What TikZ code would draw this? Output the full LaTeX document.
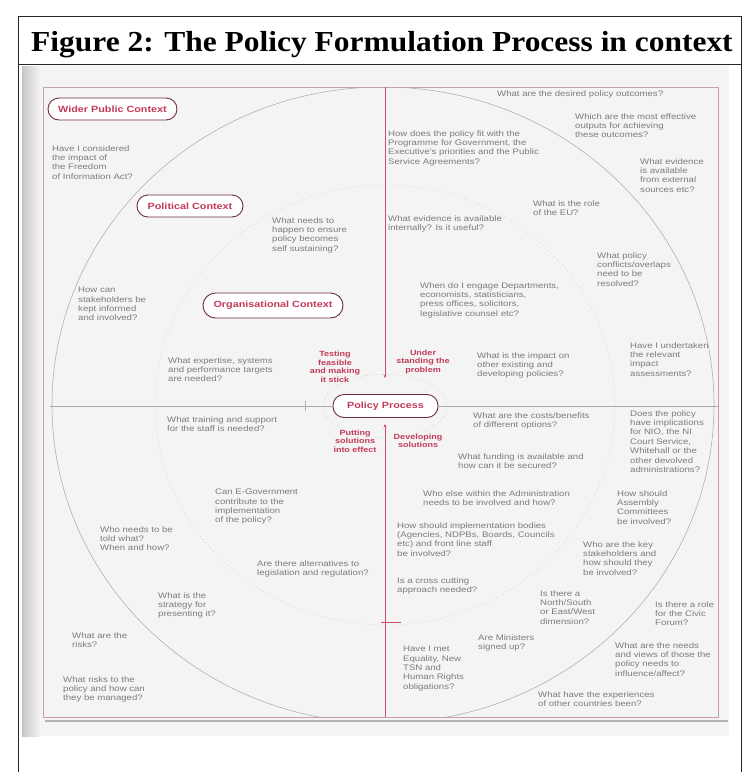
\documentclass[tikz,border=0pt]{standalone}
\usepackage{fontspec}
\setmainfont{Liberation Serif}
\newfontfamily\qfont[FakeStretch=1.2]{Liberation Sans}
\newfontfamily\tfont[FakeStretch=1.085]{Liberation Serif}
\usetikzlibrary{arrows.meta}
\definecolor{qtext}{HTML}{7C7C7C}
\definecolor{pillline}{HTML}{6E3040}
\definecolor{pilltext}{HTML}{C23A58}
\definecolor{redline}{HTML}{C8506A}
\definecolor{rectline}{HTML}{C9A0AA}
\definecolor{scanbg}{HTML}{F4F4F4}
\tikzset{
  q/.style={anchor=north west, inner sep=0pt, align=left, text=qtext,
    font=\qfont\fontsize{8}{9.4}\selectfont},
  pill/.style={draw=pillline, line width=0.9pt, rounded corners=11pt, fill=white,
    text=pilltext, font=\qfont\bfseries\fontsize{9}{10}\selectfont,
    minimum height=22pt, inner xsep=6pt, inner ysep=2pt},
  proc/.style={text=pilltext, font=\qfont\bfseries\fontsize{7.5}{8.6}\selectfont,
    align=center, inner sep=0pt},
  frame/.style={black!85, line width=0.8pt},
}
\begin{document}
\begin{tikzpicture}[x=1pt,y=-1pt]
\useasboundingbox (0,0) rectangle (744,772);
% scanned page
\fill[scanbg] (22,66) rectangle (729,736);
\shade[left color=gray!45, right color=gray!6] (22,66) rectangle (41,736);
\draw[gray!60, line width=1.6pt] (45,721) -- (728,721);
% outer frame and title
\draw[frame] (18,772) -- (18,16) -- (741,16) -- (741,772);
\draw[frame] (18,64) -- (741,64);
\node[anchor=base west, inner sep=0pt, font=\tfont\bfseries\fontsize{29}{32}\selectfont] (title) at (31,51) {Figure 2: The Policy Formulation Process in context};
% inner rectangle and circles
\draw[rectline, line width=0.6pt] (43,87) rectangle (718,717);
\begin{scope}
\clip (43,87) rectangle (718,717);
\draw[gray!65, line width=0.55pt] (383,405) ellipse [x radius=331pt, y radius=318pt];
\end{scope}
\draw[gray!40, line width=0.5pt, dash pattern=on 1pt off 3pt] (385,405) ellipse [x radius=230pt, y radius=220pt];
\draw[gray!45, line width=0.4pt, dash pattern=on 1pt off 2pt] (385,406) ellipse [x radius=62pt, y radius=32pt];
% central pill
\node[pill, minimum width=105pt, minimum height=23pt] (pp) at (385.5,406) {Policy Process};
% axes
\coordinate (vtop) at (385,87);
\coordinate (vtopend) at (385,378);
\coordinate (vbot) at (385,717);
\coordinate (vbotend) at (385,424);
\coordinate (hleft) at (50,406);
\coordinate (hright) at (718,406);
\draw[redline, line width=0.7pt, -{Stealth[length=3.5pt,width=3pt]}] (vtop) -- (vtopend);
\draw[redline, line width=0.7pt, -{Stealth[length=3.5pt,width=3pt]}] (vbot) -- (vbotend);
\draw[gray!65, line width=0.7pt] (hleft) -- (pp.west);
\draw[gray!65, line width=0.7pt] (pp.east) -- (hright);
\coordinate (tk1) at (305,401); \coordinate (tk2) at (305,411);
\draw[gray!60, line width=0.5pt] (tk1) -- (tk2);
\coordinate (tk3) at (381,622); \coordinate (tk4) at (401,622);
\draw[redline, line width=0.5pt] (tk3) -- (tk4);
% context pills
\node[pill, minimum width=129pt] (wpc) at (112.5,109) {Wider Public Context};
\node[pill, minimum width=106pt] (pc) at (190,206) {Political Context};
\node[pill, minimum width=140pt, minimum height=25pt, rounded corners=12.5pt] (oc) at (273,305.5) {Organisational Context};
% process labels
\node[proc] (ptest) at (335,367) {Testing\\feasible\\and making\\it stick};
\node[proc] (pund) at (423,362) {Under\\standing the\\problem};
\node[proc] (pput) at (355,441) {Putting\\solutions\\into effect};
\node[proc] (pdev) at (418,441) {Developing\\solutions};
% questions - top left
\node[q] (q1) at (52,145) {Have I considered\\the impact of\\the Freedom\\of Information Act?};
\node[q] (q2) at (272,217) {What needs to\\happen to ensure\\policy becomes\\self sustaining?};
\node[q] (q3) at (78,287) {How can\\stakeholders be\\kept informed\\and involved?};
\node[q] (q4) at (168,357) {What expertise, systems\\and performance targets\\are needed?};
% bottom left
\node[q] (q5) at (167,416) {What training and support\\for the staff is needed?};
\node[q] (q6) at (215,489) {Can E-Government\\contribute to the\\implementation\\of the policy?};
\node[q] (q7) at (100,526) {Who needs to be\\told what?\\When and how?};
\node[q] (q8) at (257,560) {Are there alternatives to\\legislation and regulation?};
\node[q] (q9) at (158,592) {What is the\\strategy for\\presenting it?};
\node[q] (q10) at (72,632) {What are the\\risks?};
\node[q] (q11) at (63,676) {What risks to the\\policy and how can\\they be managed?};
% top right
\node[q] (q12) at (497,90) {What are the desired policy outcomes?};
\node[q] (q13) at (575,113) {Which are the most effective\\outputs for achieving\\these outcomes?};
\node[q] (q14) at (388,130) {How does the policy fit with the\\Programme for Government, the\\Executive's priorities and the Public\\Service Agreements?};
\node[q] (q15) at (640,158) {What evidence\\is available\\from external\\sources etc?};
\node[q] (q16) at (533,200) {What is the role\\of the EU?};
\node[q] (q17) at (388,215) {What evidence is available\\internally? Is it useful?};
\node[q] (q18) at (597,252) {What policy\\conflicts/overlaps\\need to be\\resolved?};
\node[q] (q19) at (420,282) {When do I engage Departments,\\economists, statisticians,\\press offices, solicitors,\\legislative counsel etc?};
\node[q] (q20) at (477,352) {What is the impact on\\other existing and\\developing policies?};
\node[q] (q21) at (630,342) {Have I undertaken\\the relevant\\impact\\assessments?};
% bottom right
\node[q] (q22) at (473,412) {What are the costs/benefits\\of different options?};
\node[q] (q23) at (630,410) {Does the policy\\have implications\\for NIO, the NI\\Court Service,\\Whitehall or the\\other devolved\\administrations?};
\node[q] (q24) at (458,453) {What funding is available and\\how can it be secured?};
\node[q] (q25) at (423,490) {Who else within the Administration\\needs to be involved and how?};
\node[q] (q26) at (617,490) {How should\\Assembly\\Committees\\be involved?};
\node[q] (q27) at (397,522) {How should implementation bodies\\(Agencies, NDPBs, Boards, Councils\\etc) and front line staff\\be involved?};
\node[q] (q28) at (583,541) {Who are the key\\stakeholders and\\how should they\\be involved?};
\node[q] (q29) at (397,577) {Is a cross cutting\\approach needed?};
\node[q] (q30) at (540,590) {Is there a\\North/South\\or East/West\\dimension?};
\node[q] (q31) at (655,601) {Is there a role\\for the Civic\\Forum?};
\node[q] (q32) at (478,634) {Are Ministers\\signed up?};
\node[q] (q33) at (403,646) {Have I met\\Equality, New\\TSN and\\Human Rights\\obligations?};
\node[q] (q34) at (615,642) {What are the needs\\and views of those the\\policy needs to\\influence/affect?};
\node[q] (q35) at (538,691) {What have the experiences\\of other countries been?};
\end{tikzpicture}
\end{document}
